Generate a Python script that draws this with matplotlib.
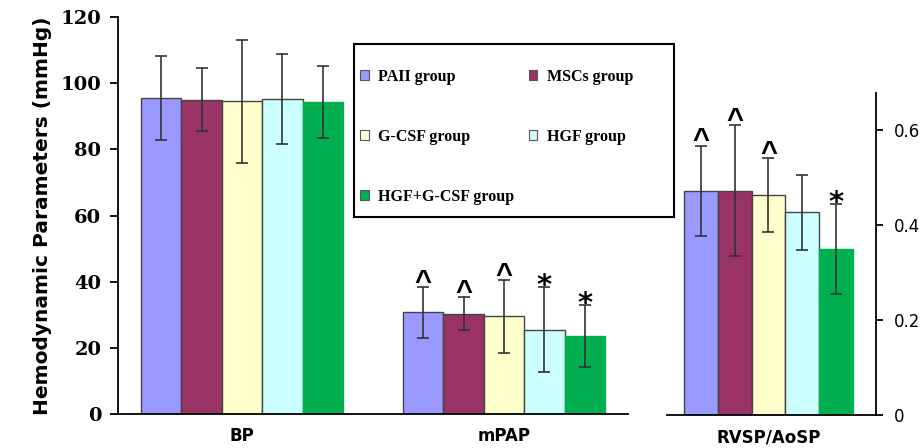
import numpy as np
import matplotlib
matplotlib.use("Agg")
import matplotlib.pyplot as plt
from matplotlib.patches import Patch, Rectangle

# data
groups = ["PAII group", "MSCs group", "G-CSF group", "HGF group", "HGF+G-CSF group"]
colors = ["#9999FF", "#993366", "#FFFFCC", "#CCFFFF", "#00B050"]

left_cats = ["BP", "mPAP"]
bp_mean = [95.5, 95.0, 94.5, 95.2, 94.3]
bp_err = [12.8, 9.5, 18.5, 13.6, 11.0]
mpap_mean = [30.7, 30.3, 29.5, 25.5, 23.6]
mpap_err = [7.6, 5.0, 11.0, 12.8, 9.4]
mpap_marks = ["^", "^", "^", "*", "*"]

right_cat = "RVSP/AoSP"
ratio_mean = [0.472, 0.472, 0.463, 0.427, 0.349]
ratio_err = [0.095, 0.138, 0.078, 0.079, 0.095]
ratio_marks = ["^", "^", "^", "", "*"]

W, H = 921, 448
fig = plt.figure(figsize=(W / 100, H / 100), dpi=100)

ax = fig.add_axes([118 / W, 1 - 414 / H, 510 / W, 397 / H])
ax2 = fig.add_axes([667 / W, 1 - 415 / H, 209 / W, 322 / H])

bw = 0.154
offs = (np.arange(5) - 2) * bw
err_kw = dict(ecolor="#333333", elinewidth=1.2, capsize=4, capthick=1.2)


def draw_marks(a, xs, tops, marks):
    for x, t, m in zip(xs, tops, marks):
        if m == "^":
            a.annotate("^", (x, t), xytext=(0, -2), textcoords="offset points",
                       ha="center", va="baseline", fontsize=21,
                       fontfamily="Liberation Sans", fontweight="bold")
        elif m == "*":
            a.annotate("*", (x, t), xytext=(0, -5), textcoords="offset points",
                       ha="center", va="baseline", fontsize=21, fontweight="bold")


for gi, (means, errs) in enumerate([(bp_mean, bp_err), (mpap_mean, mpap_err)]):
    for i in range(5):
        ec = colors[i] if i == 4 else "#444444"
        ax.bar(gi + offs[i], means[i], bw, color=colors[i], edgecolor=ec,
               linewidth=1.0, yerr=errs[i], error_kw=err_kw, zorder=2)
draw_marks(ax, 1 + offs, np.array(mpap_mean) + np.array(mpap_err), mpap_marks)

for i in range(5):
    ec = colors[i] if i == 4 else "#444444"
    ax2.bar(offs[i], ratio_mean[i], bw, color=colors[i], edgecolor=ec,
            linewidth=1.0, yerr=ratio_err[i], error_kw=err_kw, zorder=2)
draw_marks(ax2, offs, np.array(ratio_mean) + np.array(ratio_err), ratio_marks)

# left axis
ax.set_xlim(-0.473, 1.473)
ax.set_ylim(0, 120)
ax.set_yticks(range(0, 121, 20))
ax.set_yticklabels([str(v) for v in range(0, 121, 20)],
                   fontfamily="DejaVu Serif", fontweight="bold", fontsize=14)
ax.tick_params(axis="y", length=6, width=1.3, pad=6)
ax.set_xticks([0, 1])
ax.set_xticklabels(left_cats, fontweight="bold", fontsize=12)
ax.tick_params(axis="x", length=0, pad=9)
ax.spines[["top", "right"]].set_visible(False)
ax.spines[["left", "bottom"]].set_linewidth(1.3)
ax.set_ylabel("Hemodynamic Parameters (mmHg)", fontweight="bold", fontsize=14.5, labelpad=6)

# right axis
ax2.set_xlim(-0.462, 0.49)
ax2.set_ylim(0, 0.678)
ax2.set_yticks([0, 0.2, 0.4, 0.6])
ax2.set_yticklabels(["0", "0.2", "0.4", "0.6"], fontsize=12)
ax2.yaxis.tick_right()
ax2.tick_params(axis="y", length=5, width=1.3, pad=8)
ax2.set_xticks([0])
ax2.set_xticklabels([right_cat], fontweight="bold", fontsize=12)
ax2.tick_params(axis="x", length=0, pad=10)
ax2.spines[["top", "left"]].set_visible(False)
ax2.spines[["right", "bottom"]].set_linewidth(1.3)

# legend box
fig.patches.append(Rectangle((354 / W, 1 - 217 / H), 320 / W, 173 / H,
                             transform=fig.transFigure, facecolor="white",
                             edgecolor="black", linewidth=1.5, zorder=5))
handles = [Patch(facecolor=c, edgecolor="#555555", linewidth=0.8) for c in colors]
order = [0, 2, 4, 1, 3]  # fill row by row
leg = fig.legend([handles[i] for i in order], [groups[i] for i in order],
                 ncol=2, frameon=False, loc="upper left",
                 bbox_to_anchor=(347 / W, 1 - 56 / H),
                 prop=dict(family="Liberation Serif", weight="bold", size=11.5),
                 handlelength=0.55, handleheight=0.55, handletextpad=0.6,
                 labelspacing=2.75, columnspacing=0.9, borderpad=0.3)
leg.set_zorder(6)

fig.savefig("out.png", dpi=100)
